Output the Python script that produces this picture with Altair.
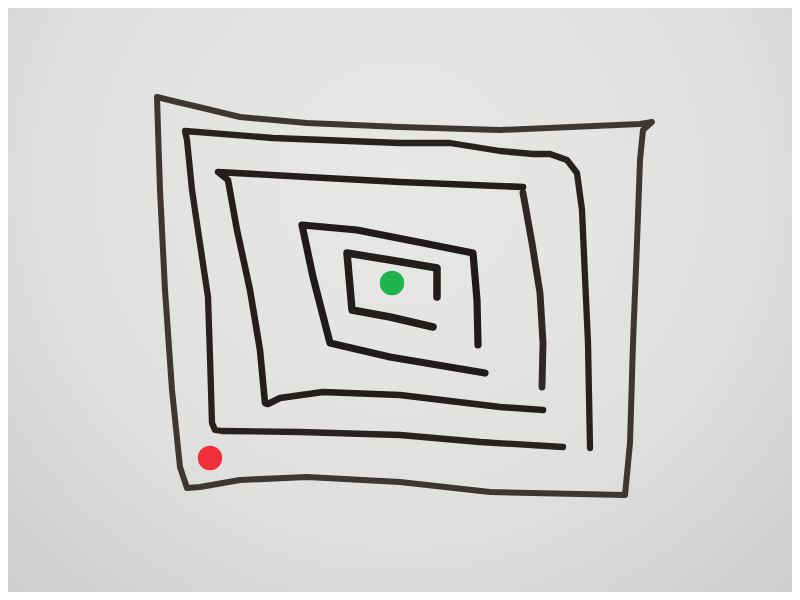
import altair as alt
import pandas as pd

# marker strokes, in pixel coords (y grows downward)
outer_x = [187, 180, 172, 165, 160, 158, 157, 173, 207, 240, 307, 400, 500, 640, 652, 643, 640, 637, 633, 630, 625,
           490, 400, 307, 240, 200, 187]
outer_y = [488, 467, 390, 290, 190, 130, 97, 101, 109, 117, 123, 127, 130, 124, 122, 130, 160, 243, 343, 443, 495,
           492, 482, 477, 480, 487, 488]

ring2_x = [590, 588, 585, 582, 577, 567, 550, 533, 500, 475, 450, 400, 273, 185, 187, 192, 202, 208, 210, 212, 215,
           222, 300, 400, 480, 563]
ring2_y = [448, 343, 277, 210, 173, 160, 154, 154, 151, 147, 143, 143, 138, 131, 140, 190, 257, 297, 357, 423, 430,
           431, 432, 435, 442, 447]

ring3_x = [523, 400, 307, 218, 228, 237, 250, 260, 265, 268, 280, 323, 400, 500, 543]
ring3_y = [187, 182, 177, 172, 180, 230, 290, 350, 403, 404, 398, 392, 395, 407, 410]

wall_x = [523, 532, 540, 543, 542]
wall_y = [193, 243, 293, 343, 387]

ring5_x = [478, 477, 473, 423, 357, 302, 313, 330, 390, 485]
ring5_y = [345, 300, 253, 243, 230, 225, 277, 343, 357, 373]

ring6_x = [437, 437, 390, 347, 352, 390, 433]
ring6_y = [297, 268, 260, 253, 310, 317, 327]

paths = {
    'outer': (outer_x, outer_y),
    'ring2': (ring2_x, ring2_y),
    'ring3': (ring3_x, ring3_y),
    'wall': (wall_x, wall_y),
    'ring5': (ring5_x, ring5_y),
    'ring6': (ring6_x, ring6_y),
}
path_colors = ['#3d3733', '#272220', '#231e1c', '#2e2826', '#1f1b1a', '#221e1c']
path_widths = [6, 7.5, 7.5, 7, 7.5, 7.5]

# start (red) and goal (green) magnets
dot_names = ['start', 'goal']
dot_x = [210, 392]
dot_y = [458, 283]

rows = []
for name, (xs, ys) in paths.items():
    for i, (px, py) in enumerate(zip(xs, ys)):
        rows.append({'path': name, 'order': i, 'x': px, 'y': py})
lines_df = pd.DataFrame(rows)
dots_df = pd.DataFrame({'name': dot_names, 'x': dot_x, 'y': dot_y})

W, H = 784, 584
xscale = alt.Scale(domain=[8, 792], nice=False, zero=False)
yscale = alt.Scale(domain=[8, 592], nice=False, zero=False, reverse=True)

board = alt.Gradient(
    gradient='radial',
    stops=[alt.GradientStop(color='#e8e8e6', offset=0),
           alt.GradientStop(color='#e0e1df', offset=0.5),
           alt.GradientStop(color='#c5c6c4', offset=1)],
    x1=0.5, y1=0.35, r1=0, x2=0.5, y2=0.35, r2=0.85,
)
bg = alt.Chart(pd.DataFrame({'a': [0]})).mark_rect(fill=board).encode(
    x=alt.value(0), x2=alt.value(W), y=alt.value(0), y2=alt.value(H)
)

names = list(paths.keys())
lines = alt.Chart(lines_df).mark_line(strokeCap='round', strokeJoin='round').encode(
    x=alt.X('x:Q', scale=xscale, axis=None),
    y=alt.Y('y:Q', scale=yscale, axis=None),
    detail='path:N',
    order='order:Q',
    color=alt.Color('path:N', scale=alt.Scale(domain=names, range=path_colors), legend=None),
    strokeWidth=alt.StrokeWidth('path:N', scale=alt.Scale(domain=names, range=path_widths), legend=None),
)

dots = alt.Chart(dots_df).mark_circle(opacity=1, size=600).encode(
    x=alt.X('x:Q', scale=xscale, axis=None),
    y=alt.Y('y:Q', scale=yscale, axis=None),
    color=alt.Color('name:N', scale=alt.Scale(domain=dot_names, range=['#f2303b', '#1fb34c']), legend=None),
)

chart = alt.layer(bg, lines, dots).resolve_scale(color='independent').properties(
    width=W, height=H, padding=0, background='#dcdcda'
).configure_view(strokeWidth=0)

chart.save("out.html", embed_options={"renderer": "svg", "actions": False})
